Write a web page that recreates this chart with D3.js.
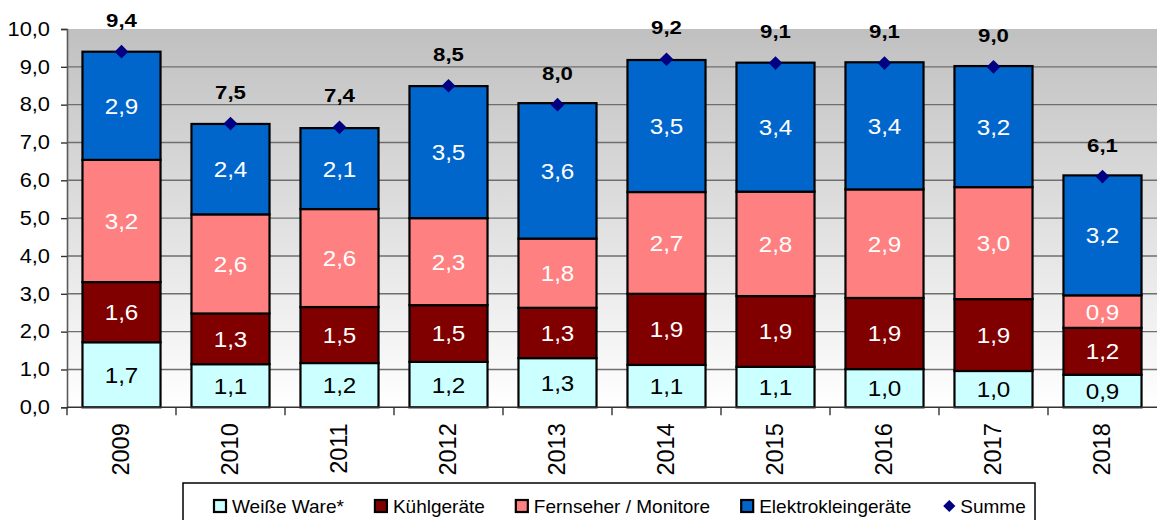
<!DOCTYPE html>
<html>
<head>
<meta charset="utf-8">
<script src="https://cdn.jsdelivr.net/npm/d3@7"></script>
<style>
  body { margin: 0; background: #fff; }
  svg { display: block; font-family: "Liberation Sans", Arial, sans-serif; }
</style>
</head>
<body>
<svg id="chart" width="1157" height="520"></svg>
<script>
/* global d3 */

// Values (segment heights, labels show one decimal)
const YEARS = ["2009", "2010", "2011", "2012", "2013", "2014", "2015", "2016", "2017", "2018"];
const WEISSE_WARE = [1.72, 1.14, 1.17, 1.2, 1.3, 1.12, 1.07, 1.01, 0.96, 0.86];
const KUEHLGERAETE = [1.59, 1.34, 1.48, 1.5, 1.33, 1.88, 1.87, 1.88, 1.9, 1.24];
const FERNSEHER = [3.23, 2.62, 2.59, 2.3, 1.83, 2.69, 2.76, 2.87, 2.96, 0.86];
const ELEKTROKLEIN = [2.86, 2.39, 2.14, 3.49, 3.58, 3.49, 3.41, 3.36, 3.2, 3.17];
const SUMME = [9.4, 7.5, 7.4, 8.5, 8.0, 9.2, 9.1, 9.1, 9.0, 6.1];
const Y_TICKS = [0, 1, 2, 3, 4, 5, 6, 7, 8, 9, 10];

const SERIES = [
  { key: "weisse", name: "Weiße Ware*", values: WEISSE_WARE, color: "#ccffff", text: "#000" },
  { key: "kuehl", name: "Kühlgeräte", values: KUEHLGERAETE, color: "#800000", text: "#fff" },
  { key: "fern", name: "Fernseher / Monitore", values: FERNSEHER, color: "#ff8080", text: "#fff" },
  { key: "elektro", name: "Elektrokleingeräte", values: ELEKTROKLEIN, color: "#0066cc", text: "#fff" }
];

(function() {
  const svg = d3.select("#chart");
  const plot = { left: 67, right: 1157, top: 29, bottom: 407.3 };

  const de = d3.formatLocale({ decimal: ",", thousands: ".", grouping: [3], currency: ["", " €"] });
  const fmt = de.format(".1f");

  const x = d3.scaleBand().domain(YEARS).range([plot.left, plot.right]).padding(0);
  const y = d3.scaleLinear().domain([0, 10]).range([plot.bottom, plot.top]);
  const barW = x.bandwidth() * 0.716;

  /** Rows for d3.stack, one per year */
  const rows = YEARS.map((yr, i) => {
    const r = { year: yr };
    SERIES.forEach(s => (r[s.key] = s.values[i]));
    return r;
  });
  const stacked = d3.stack().keys(SERIES.map(s => s.key))(rows);

  // plot background: grey to white
  const grad = svg
    .append("defs")
    .append("linearGradient")
    .attr("id", "bg")
    .attr("x1", 0)
    .attr("y1", 0)
    .attr("x2", 0)
    .attr("y2", 1);
  grad.append("stop").attr("offset", "0%").attr("stop-color", "#c0c0c0");
  grad.append("stop").attr("offset", "100%").attr("stop-color", "#ffffff");

  svg
    .append("rect")
    .attr("x", plot.left)
    .attr("y", plot.top)
    .attr("width", plot.right - plot.left)
    .attr("height", plot.bottom - plot.top)
    .attr("fill", "url(#bg)");

  // gridlines
  svg
    .append("g")
    .selectAll("line")
    .data(Y_TICKS.filter(d => d > 0 && d < 10))
    .enter()
    .append("line")
    .attr("x1", plot.left)
    .attr("x2", plot.right)
    .attr("y1", d => y(d))
    .attr("y2", d => y(d))
    .attr("stroke", "#6e6e6e")
    .attr("stroke-width", 1.4);

  // y axis
  const yAxis = svg
    .append("g")
    .attr("transform", `translate(${plot.left},0)`)
    .call(
      d3
        .axisLeft(y)
        .tickValues(Y_TICKS)
        .tickFormat(fmt)
        .tickSize(6)
        .tickPadding(17)
    );
  yAxis.select(".domain").attr("stroke", "#5a5a5a").attr("stroke-width", 1.6);
  yAxis.selectAll(".tick line").attr("stroke", "#333").attr("stroke-width", 1.4);
  yAxis
    .selectAll(".tick text")
    .attr("font-family", "Liberation Sans, Arial, sans-serif")
    .attr("font-size", 19.5)
    .attr("fill", "#000")
    .attr("x", -17 / 1.12)
    .attr("transform", "scale(1.12,1)");

  // stacked bars
  const layers = svg
    .append("g")
    .selectAll("g")
    .data(stacked)
    .enter()
    .append("g")
    .attr("fill", (d, i) => SERIES[i].color);

  layers
    .selectAll("rect")
    .data(d => d)
    .enter()
    .append("rect")
    .attr("x", d => x(d.data.year) + (x.bandwidth() - barW) / 2)
    .attr("y", d => y(d[1]))
    .attr("width", barW)
    .attr("height", d => y(d[0]) - y(d[1]))
    .attr("stroke", "#000")
    .attr("stroke-width", 2.2);

  // segment labels
  layers
    .selectAll("text")
    .data(d => d)
    .enter()
    .append("text")
    .attr("transform", function(d) {
      const cx = x(d.data.year) + x.bandwidth() / 2;
      const cy = (y(d[0]) + y(d[1])) / 2;
      return `translate(${cx},${cy}) scale(1.1,1)`;
    })
    .attr("dy", "0.36em")
    .attr("text-anchor", "middle")
    .attr("font-size", 22)
    .attr("fill", function() {
      return SERIES[d3.select(this.parentNode).datum().index].text;
    })
    .text(d => fmt(d[1] - d[0]));

  // x axis line and boundary ticks
  const xAxis = svg.append("g");
  xAxis
    .append("line")
    .attr("x1", plot.left)
    .attr("x2", plot.right)
    .attr("y1", plot.bottom)
    .attr("y2", plot.bottom)
    .attr("stroke", "#333")
    .attr("stroke-width", 1.5);
  xAxis
    .selectAll(".bt")
    .data(YEARS)
    .enter()
    .append("line")
    .attr("class", "bt")
    .attr("x1", d => x(d))
    .attr("x2", d => x(d))
    .attr("y1", plot.bottom)
    .attr("y2", plot.bottom + 8)
    .attr("stroke", "#333")
    .attr("stroke-width", 1.4);
  xAxis
    .selectAll(".yl")
    .data(YEARS)
    .enter()
    .append("text")
    .attr("class", "yl")
    .attr("transform", d => `translate(${x(d) + x.bandwidth() / 2 - 1},${plot.bottom + 16}) rotate(-90)`)
    .attr("text-anchor", "end")
    .attr("dy", "0.36em")
    .attr("font-size", 23.5)
    .attr("fill", "#000")
    .text(d => d);

  // Summe markers and labels
  const diamond = d3.symbol().type(d3.symbolDiamond2).size(120);
  const sum = svg.append("g");
  sum
    .selectAll("path")
    .data(SUMME)
    .enter()
    .append("path")
    .attr("d", diamond)
    .attr("transform", (d, i) => `translate(${x(YEARS[i]) + x.bandwidth() / 2},${y(d)})`)
    .attr("fill", "#000080");
  sum
    .selectAll("text")
    .data(SUMME)
    .enter()
    .append("text")
    .attr("transform", (d, i) => `translate(${x(YEARS[i]) + x.bandwidth() / 2},${y(d) - 25}) scale(1.2,1)`)
    .attr("text-anchor", "middle")
    .attr("font-size", 18.5)
    .attr("font-weight", "bold")
    .attr("fill", "#000")
    .text(d => fmt(d));

  // legend
  const legend = svg.append("g");
  legend
    .append("rect")
    .attr("x", 183)
    .attr("y", 483)
    .attr("width", 852)
    .attr("height", 60)
    .attr("fill", "#fff")
    .attr("stroke", "#000")
    .attr("stroke-width", 1.5);

  const items = SERIES.map(s => ({ name: s.name, color: s.color, shape: "square" }));
  items.push({ name: "Summe", color: "#000080", shape: "diamond" });

  let cursor = 214;
  const ly = 506;
  items.forEach(it => {
    const g = legend.append("g").attr("transform", `translate(${cursor},${ly})`);
    if (it.shape === "square") {
      g.append("rect")
        .attr("x", 0)
        .attr("y", -6)
        .attr("width", 12)
        .attr("height", 12)
        .attr("fill", it.color)
        .attr("stroke", "#000")
        .attr("stroke-width", 2.2);
    } else {
      g.append("path")
        .attr("d", d3.symbol().type(d3.symbolDiamond2).size(95))
        .attr("transform", "translate(7,0)")
        .attr("fill", it.color);
    }
    const t = g
      .append("text")
      .attr("x", 18)
      .attr("dy", "0.36em")
      .attr("font-size", 19)
      .attr("fill", "#000")
      .text(it.name);
    cursor += 18 + t.node().getComputedTextLength() + 31;
  });
})();
</script>
</body>
</html>
